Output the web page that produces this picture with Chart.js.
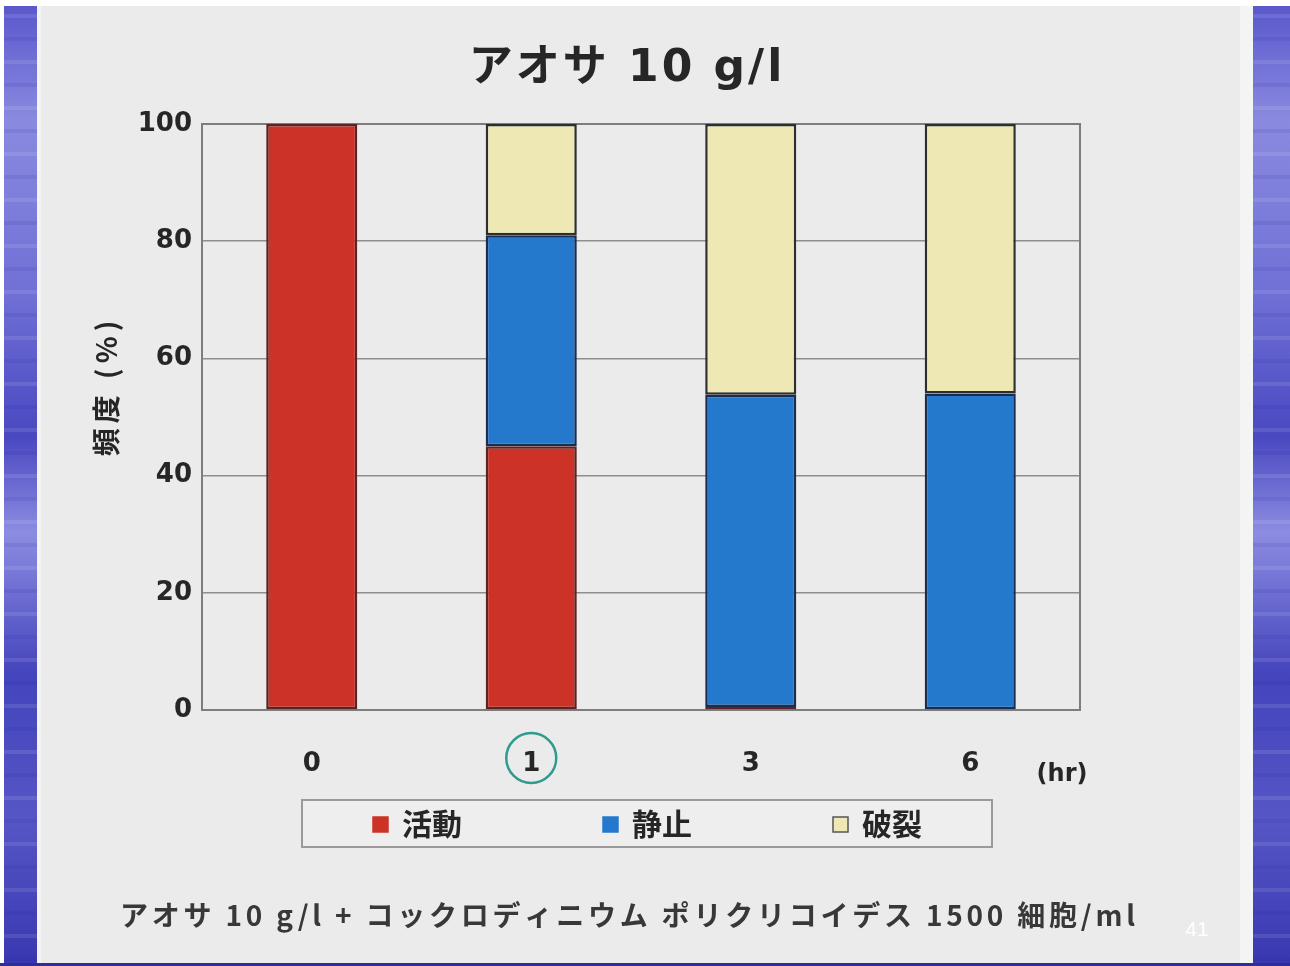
<!DOCTYPE html>
<html>
<head>
<meta charset="utf-8">
<script src="https://cdn.jsdelivr.net/npm/chart.js@4/dist/chart.umd.min.js"></script>
<style>
  html, body { margin: 0; padding: 0; background: #ffffff; }
  #wrap { width: 1290px; height: 966px; position: relative; }
  canvas { display: block; }
</style>
</head>
<body>
<div id="wrap"><canvas id="c" width="1290" height="966"></canvas></div>
<script>
// Time points (hours) and share of cells in each state (%)
const hours = ['0', '1', '3', '6'];
const active = [100, 45, 0.5, 0];
const resting = [0, 36, 53.3, 54];
const ruptured = [0, 19, 46.2, 46];
const seriesNames = ['活動', '静止', '破裂'];
const yTicks = [0, 20, 40, 60, 80, 100];

const chartTitle = 'アオサ 10 g/l';
const yTitle = '頻度 (%)';
const xUnit = '(hr)';
const footnote = 'アオサ 10 g/l + コックロディニウム ポリクリコイデス 1500 細胞/ml';
const pageNo = '41';
const circledHour = '1';

const JP = '"Noto Sans CJK JP", sans-serif';
const NUM = '"DejaVu Sans", "Noto Sans CJK JP", sans-serif';
const INK = '#262626';

// Slide frame: white margin, blue side bands, light grey page
const slidePlugin = {
  id: 'slide',
  beforeDraw(chart) {
    const ctx = chart.ctx;
    ctx.save();
    ctx.fillStyle = '#ffffff';
    ctx.fillRect(0, 0, 1290, 966);
    ctx.fillStyle = '#ebebeb';
    ctx.fillRect(37, 6, 1216, 957);
    // soft lighter rim inside the side bands
    ctx.fillStyle = '#f3f4f4';
    ctx.fillRect(37, 6, 4, 957);
    ctx.fillRect(1240, 6, 13, 957);
    const band = (x, w) => {
      const g = ctx.createLinearGradient(0, 6, 0, 963);
      g.addColorStop(0, '#5a58cc');
      g.addColorStop(0.12, '#8a8ae0');
      g.addColorStop(0.3, '#7070d6');
      g.addColorStop(0.45, '#4a48c0');
      g.addColorStop(0.55, '#8c8ce2');
      g.addColorStop(0.7, '#4444bc');
      g.addColorStop(0.85, '#5656c6');
      g.addColorStop(1, '#3a38b0');
      ctx.fillStyle = g;
      ctx.fillRect(x, 6, w, 957);
      // faint horizontal streaks of the water texture
      ctx.globalAlpha = 0.1;
      for (let y = 14; y < 960; y += 23) {
        ctx.fillStyle = (y / 23) % 2 < 1 ? '#ffffff' : '#20209a';
        ctx.fillRect(x, y, w, 4);
      }
      ctx.globalAlpha = 1;
    };
    band(4, 33);
    band(1253, 37);
    ctx.fillStyle = '#2e2e9a';
    ctx.fillRect(0, 963, 1290, 3);
    ctx.restore();
  },
  beforeDatasetsDraw(chart) {
    // right and top edges of the plot frame
    const { ctx, chartArea: a } = chart;
    ctx.save();
    ctx.strokeStyle = '#7d7d7d';
    ctx.lineWidth = 2;
    ctx.beginPath();
    ctx.moveTo(a.left, a.top);
    ctx.lineTo(a.right, a.top);
    ctx.lineTo(a.right, a.bottom);
    ctx.stroke();
    ctx.restore();
  },
  afterDraw(chart) {
    const ctx = chart.ctx;
    const xs = chart.scales.x;
    ctx.save();
    ctx.fillStyle = INK;
    ctx.textBaseline = 'middle';

    // chart title
    ctx.textAlign = 'center';
    ctx.font = 'bold 44px ' + NUM;
    ctx.letterSpacing = '3px';
    ctx.fillText(chartTitle, 627, 70);

    // vertical axis title
    ctx.save();
    ctx.translate(106, 388);
    ctx.rotate(-Math.PI / 2);
    ctx.font = 'bold 28px ' + JP;
    ctx.letterSpacing = '5px';
    ctx.fillText(yTitle, 2, 0);
    ctx.restore();

    // unit after the hour labels
    ctx.letterSpacing = '0px';
    ctx.font = 'bold 24px ' + NUM;
    ctx.fillText(xUnit, 1062, 775);

    // ring around one hour label
    const idx = hours.indexOf(circledHour);
    ctx.strokeStyle = '#2f9a8d';
    ctx.lineWidth = 2.5;
    ctx.beginPath();
    ctx.arc(xs.getPixelForValue(idx), 758, 25, 0, Math.PI * 2);
    ctx.stroke();

    // legend box
    ctx.fillStyle = '#eeeeee';
    ctx.fillRect(302, 800, 690, 47);
    ctx.strokeStyle = '#9a9a9a';
    ctx.lineWidth = 2;
    ctx.strokeRect(302, 800, 690, 47);
    chart.data.datasets.forEach((ds, i) => {
      const x0 = 373 + i * 230;
      ctx.fillStyle = ds.backgroundColor;
      ctx.fillRect(x0, 817, 15, 15);
      ctx.strokeStyle = i === 2 ? '#555555' : ds.backgroundColor;
      ctx.lineWidth = 1.5;
      ctx.strokeRect(x0, 817, 15, 15);
      ctx.fillStyle = INK;
      ctx.textAlign = 'left';
      ctx.font = 'bold 30px ' + JP;
      ctx.fillText(ds.label, x0 + 29, 824);
    });

    // footnote, spread to the slide's text width
    ctx.font = 'bold 28px ' + JP;
    ctx.fillStyle = '#383838';
    ctx.textAlign = 'left';
    const chars = [...footnote].length;
    const w0 = ctx.measureText(footnote).width;
    ctx.letterSpacing = Math.max(0, (1015 - w0) / (chars - 1)) + 'px';
    ctx.fillText(footnote, 120, 915);

    // page number
    ctx.letterSpacing = '0px';
    ctx.font = '21px "Liberation Sans", sans-serif';
    ctx.fillStyle = '#ffffff';
    ctx.textAlign = 'center';
    ctx.fillText(pageNo, 1197, 930);
    ctx.restore();
  }
};

const barStyle = { borderWidth: 2.5, borderSkipped: false };

new Chart(document.getElementById('c'), {
  type: 'bar',
  data: {
    labels: hours,
    datasets: [
      { label: seriesNames[0], data: active, backgroundColor: '#cc3326', ...barStyle, borderColor: '#5a2424' },
      { label: seriesNames[1], data: resting, backgroundColor: '#2479cc', ...barStyle, borderColor: '#1c2c4e' },
      { label: seriesNames[2], data: ruptured, backgroundColor: '#eee9b4', ...barStyle, borderColor: '#2e2e30' }
    ]
  },
  options: {
    responsive: false,
    animation: false,
    devicePixelRatio: 1,
    layout: { padding: { left: 40, right: 210, top: 124, bottom: 0 } },
    datasets: { bar: { categoryPercentage: 1, barPercentage: 0.415 } },
    plugins: {
      legend: { display: false },
      title: { display: false },
      tooltip: { enabled: false }
    },
    scales: {
      x: {
        stacked: true,
        grid: { display: false },
        border: { display: true, color: '#7d7d7d', width: 2 },
        ticks: { color: INK, font: { family: NUM, size: 26, weight: 'bold' }, padding: 31 },
        afterFit(s) { s.height = 256; }
      },
      y: {
        stacked: true,
        min: 0,
        max: 100,
        afterBuildTicks(s) { s.ticks = yTicks.map(v => ({ value: v })); },
        grid: { color: '#8e8e8e', lineWidth: 1.5, drawTicks: false },
        border: { display: true, color: '#7d7d7d', width: 2 },
        ticks: { color: INK, font: { family: NUM, size: 26, weight: 'bold' }, padding: 10 },
        afterFit(s) { s.width = 162; }
      }
    }
  },
  plugins: [slidePlugin]
});
</script>
</body>
</html>
